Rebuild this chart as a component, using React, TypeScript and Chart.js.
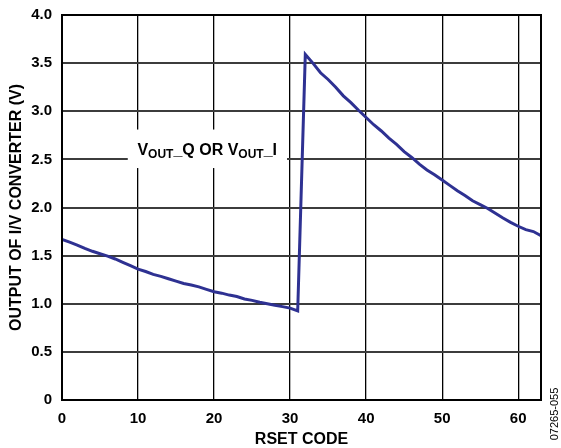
import React, { useEffect, useRef } from "react";
import { Chart, registerables } from "chart.js";

Chart.register(...registerables);

const rsetCode: number[] = Array.from({ length: 64 }, (_, i) => i);
const voutLow: number[] = [
  1.668, 1.64, 1.61, 1.575, 1.545, 1.52, 1.495, 1.465, 1.43, 1.395,
  1.36, 1.335, 1.305, 1.285, 1.26, 1.235, 1.21, 1.195, 1.175, 1.15,
  1.125, 1.11, 1.09, 1.075, 1.05, 1.035, 1.015, 1.0, 0.985, 0.97,
  0.955, 0.925,
];
const voutHigh: number[] = [
  3.59, 3.5, 3.4, 3.33, 3.25, 3.16, 3.09, 3.01, 2.935, 2.86,
  2.795, 2.72, 2.655, 2.58, 2.52, 2.45, 2.39, 2.34, 2.285, 2.23,
  2.175, 2.125, 2.07, 2.03, 1.99, 1.94, 1.89, 1.845, 1.805, 1.77,
  1.75, 1.706,
];
const vout: number[] = [...voutLow, ...voutHigh];

const xTicks: number[] = [0, 10, 20, 30, 40, 50, 60];
const yTickLabels: string[] = ["0", "0.5", "1.0", "1.5", "2.0", "2.5", "3.0", "3.5", "4.0"];

const labelParts = [
  { t: "V", sub: false },
  { t: "OUT", sub: true },
  { t: "_Q OR V", sub: false },
  { t: "OUT", sub: true },
  { t: "_I", sub: false },
];
// annotation anchor in data units
const labelCenter = { x: 19.1, y: 2.6 };
const labelBox = { x0: 8.65, x1: 29.6, y0: 2.41, y1: 2.81 };
const figureCode = "07265-055";

const FONT = "'Liberation Sans', Arial, Helvetica, sans-serif";

export default function App() {
  const ref = useRef<HTMLCanvasElement | null>(null);

  useEffect(() => {
    if (!ref.current) return;

    const frame = {
      id: "frame",
      beforeDatasetsDraw(chart: any) {
        const { ctx, scales } = chart;
        const xs = scales.x, ys = scales.y;
        ctx.save();
        const bx0 = xs.getPixelForValue(labelBox.x0);
        const bx1 = xs.getPixelForValue(labelBox.x1);
        const by0 = ys.getPixelForValue(labelBox.y1);
        const by1 = ys.getPixelForValue(labelBox.y0);
        ctx.fillStyle = "#ffffff";
        ctx.fillRect(bx0, by0, bx1 - bx0, by1 - by0);
        const mainFont = `bold 16px ${FONT}`;
        const subFont = `bold 12px ${FONT}`;
        let total = 0;
        const widths: number[] = [];
        for (const p of labelParts) {
          ctx.font = p.sub ? subFont : mainFont;
          const w = ctx.measureText(p.t).width;
          widths.push(w);
          total += w;
        }
        let cx = xs.getPixelForValue(labelCenter.x) - total / 2;
        const baseY = ys.getPixelForValue(labelCenter.y) + 5;
        ctx.fillStyle = "#000";
        ctx.textAlign = "left";
        ctx.textBaseline = "alphabetic";
        labelParts.forEach((p, i) => {
          ctx.font = p.sub ? subFont : mainFont;
          ctx.fillText(p.t, cx, p.sub ? baseY + 3 : baseY);
          cx += widths[i];
        });
        ctx.restore();
      },
      afterDraw(chart: any) {
        const { ctx, chartArea } = chart;
        ctx.save();
        ctx.strokeStyle = "#000";
        ctx.lineWidth = 2;
        ctx.strokeRect(chartArea.left, chartArea.top, chartArea.right - chartArea.left, chartArea.bottom - chartArea.top);
        ctx.translate(555, 414);
        ctx.rotate(-Math.PI / 2);
        ctx.font = `11px ${FONT}`;
        ctx.fillStyle = "#000";
        ctx.textAlign = "center";
        ctx.textBaseline = "middle";
        ctx.fillText(figureCode, 0, 0);
        ctx.restore();
      },
    };

    const chart = new Chart(ref.current, {
      type: "line",
      data: {
        datasets: [
          {
            data: rsetCode.map((x, i) => ({ x, y: vout[i] })),
            borderColor: "#2e3192",
            borderWidth: 3,
            pointRadius: 0,
            tension: 0,
            fill: false,
          },
        ],
      },
      options: {
        responsive: false,
        animation: false,
        layout: { padding: { top: 15, right: 20, left: 0, bottom: 0 } },
        plugins: { legend: { display: false }, tooltip: { enabled: false } },
        scales: {
          x: {
            type: "linear",
            min: 0,
            max: 63,
            afterBuildTicks: (scale: any) => {
              scale.ticks = xTicks.map((v) => ({ value: v }));
            },
            afterFit: (scale: any) => {
              scale.height = 48;
              scale.paddingLeft = 0;
              scale.paddingRight = 0;
            },
            grid: { color: "#000", lineWidth: 1.3, drawTicks: false },
            border: { display: false },
            ticks: {
              padding: 10,
              color: "#000",
              font: { family: FONT, size: 15, weight: "bold" },
              maxRotation: 0,
              callback: (v: any) => String(v),
            },
            title: {
              display: true,
              text: "RSET CODE",
              color: "#000",
              font: { family: FONT, size: 16, weight: "bold", lineHeight: 1.2 },
              padding: { top: 0, bottom: -1 },
            },
          },
          y: {
            min: 0,
            max: 4,
            afterBuildTicks: (scale: any) => {
              scale.ticks = yTickLabels.map((t) => ({ value: parseFloat(t) }));
            },
            afterFit: (scale: any) => {
              scale.width = 62;
              scale.paddingTop = 0;
              scale.paddingBottom = 0;
            },
            grid: { color: "#3c3c3c", lineWidth: 2, drawTicks: false },
            border: { display: false },
            ticks: {
              padding: 10,
              color: "#000",
              font: { family: FONT, size: 15, weight: "bold" },
              callback: (v: any) => yTickLabels.find((t) => parseFloat(t) === v) ?? "",
            },
            title: {
              display: true,
              text: "OUTPUT OF I/V CONVERTER (V)",
              color: "#000",
              font: { family: FONT, size: 16, weight: "bold", lineHeight: 1.2 },
              padding: { top: 7, bottom: 0 },
            },
          },
        },
      },
      plugins: [frame],
    });

    return () => chart.destroy();
  }, []);

  return (
    <div style={{ position: "absolute", left: 0, top: 0, width: 561, height: 448, background: "#fff" }}>
      <canvas ref={ref} width={561} height={448} />
    </div>
  );
}
